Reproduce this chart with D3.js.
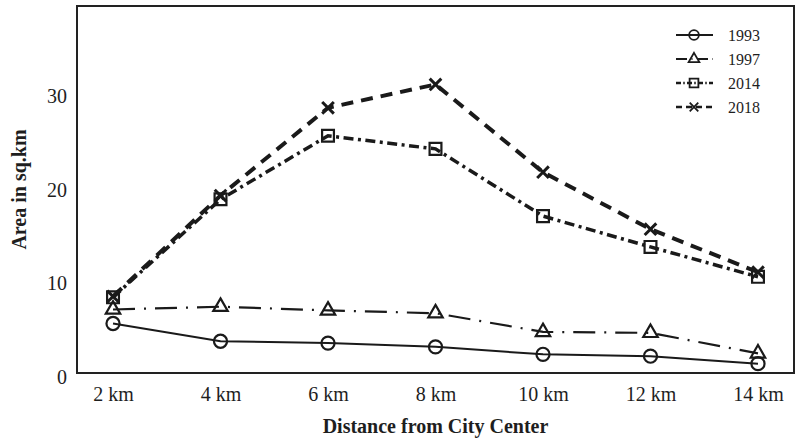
<!DOCTYPE html>
<html>
<head>
<meta charset="utf-8">
<script src="https://cdn.jsdelivr.net/npm/d3@7"></script>
<style>
  body { margin: 0; background: #fff; }
  text { font-family: "Liberation Serif", "Times New Roman", serif; fill: #1e1e1e; }
</style>
</head>
<body>
<div id="chart"></div>
<script>
// distance bands and area per year (sq.km)
var distances = ["2 km", "4 km", "6 km", "8 km", "10 km", "12 km", "14 km"]
var years = ["1993", "1997", "2014", "2018"]
var area1993 = [5.3, 3.4, 3.2, 2.8, 2.0, 1.8, 1.0]
var area1997 = [6.8, 7.1, 6.7, 6.4, 4.4, 4.3, 2.1]
var area2014 = [8.1, 18.6, 25.4, 24.0, 16.8, 13.5, 10.3]
var area2018 = [8.2, 19.0, 28.4, 30.9, 21.5, 15.4, 10.8]
var yTicks = [0, 10, 20, 30]

var width = 801, height = 442
// plot box (window.top is reserved, so these get a prefix)
var boxL = 77, boxR = 794, boxT = 6, boxB = 373

var series = [
  {name: years[0], values: area1993, dash: null, sw: 2, shape: d3.symbolCircle, size: 135},
  {name: years[1], values: area1997, dash: "22,9,2,9", sw: 2.2, shape: d3.symbolTriangle, size: 90},
  {name: years[2], values: area2014, dash: "10,4.5,3,4.5", sw: 3.5, shape: d3.symbolSquare, size: 140},
  {name: years[3], values: area2018, dash: "12,8", sw: 4, shape: d3.symbolX, size: 90}
]

var svg = d3.select('#chart').append('svg')
  .attr('width', width)
  .attr('height', height)

var x = d3.scalePoint()
  .domain(distances)
  .range([boxL, boxR])
  .padding(0.335)

var y = d3.scaleLinear()
  .domain([0, 39.3])
  .range([boxB, boxT])

// frame
svg.append('rect')
  .attr('x', boxL)
  .attr('y', boxT)
  .attr('width', boxR - boxL)
  .attr('height', boxB - boxT)
  .attr('fill', 'none')
  .attr('stroke', '#222')
  .attr('stroke-width', 2)

var xAxis = svg.append('g')
  .attr('transform', 'translate(0,' + boxB + ')')
  .call(d3.axisBottom(x).tickSize(0).tickPadding(14))
xAxis.select('.domain').remove()
xAxis.selectAll('text').style('font-size', '20px').attr('fill', '#1e1e1e')

var yAxis = svg.append('g')
  .attr('transform', 'translate(' + boxL + ',0)')
  .call(d3.axisLeft(y).tickValues(yTicks).tickSize(0).tickPadding(10))
yAxis.select('.domain').remove()
yAxis.selectAll('text').style('font-size', '20px').attr('fill', '#1e1e1e').attr('dy', '0.5em')

svg.append('text')
  .attr('x', (boxL + boxR) / 2)
  .attr('y', 433)
  .attr('text-anchor', 'middle')
  .style('font-size', '20px')
  .style('font-weight', 'bold')
  .text('Distance from City Center')

svg.append('text')
  .attr('transform', 'translate(26,' + ((boxT + boxB) / 2) + ') rotate(-90)')
  .attr('text-anchor', 'middle')
  .style('font-size', '20px')
  .style('font-weight', 'bold')
  .text('Area in sq.km')

var line = d3.line()
  .x((d, i) => x(distances[i]))
  .y(d => y(d))

series.forEach(function(s){
  svg.append('path')
    .datum(s.values)
    .attr('d', line)
    .attr('fill', 'none')
    .attr('stroke', '#1a1a1a')
    .attr('stroke-width', s.sw)
    .attr('stroke-dasharray', s.dash)

  svg.append('g')
    .selectAll('path')
    .data(s.values)
    .enter()
    .append('path')
    .attr('transform', (d, i) => 'translate(' + x(distances[i]) + ',' + y(d) + ')')
    .attr('d', d3.symbol().type(s.shape).size(s.size))
    .attr('fill', 'none')
    .attr('stroke', '#1a1a1a')
    .attr('stroke-width', s.shape === d3.symbolX ? 3 : 2.2)
})

// legend
var legend = svg.append('g')
  .attr('transform', 'translate(676,35)')

series.forEach(function(s, i){
  var row = legend.append('g')
    .attr('transform', 'translate(0,' + (i * 24) + ')')
  row.append('line')
    .attr('x1', 0)
    .attr('x2', 37)
    .attr('stroke', '#1a1a1a')
    .attr('stroke-width', Math.min(s.sw, 2.5))
    .attr('stroke-dasharray', s.dash ? s.dash.split(',').map(v => v * 0.5).join(',') : null)
  row.append('path')
    .attr('transform', 'translate(18,0)')
    .attr('d', d3.symbol().type(s.shape).size(s.size * 0.55))
    .attr('fill', 'none')
    .attr('stroke', '#1a1a1a')
    .attr('stroke-width', 1.8)
  row.append('text')
    .attr('x', 52)
    .attr('dy', '0.35em')
    .style('font-size', '16px')
    .text(s.name)
})
</script>
</body>
</html>
